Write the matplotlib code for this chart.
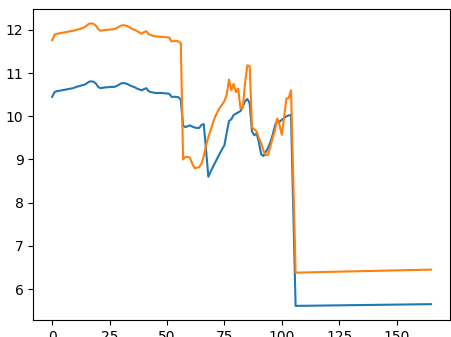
import matplotlib
matplotlib.use("Agg")
import matplotlib.pyplot as plt

x = list(range(0, 107)) + [165]

blue = [10.45, 10.56, 10.58, 10.59, 10.60, 10.61, 10.62, 10.63, 10.64, 10.65,
        10.67, 10.69, 10.70, 10.72, 10.73, 10.76, 10.80, 10.81, 10.80, 10.76,
        10.68, 10.65, 10.66, 10.67, 10.67, 10.68, 10.68, 10.68, 10.70, 10.73,
        10.76, 10.77, 10.76, 10.74, 10.71, 10.69, 10.67, 10.64, 10.62, 10.60,
        10.63, 10.65, 10.58, 10.56, 10.55, 10.54, 10.54, 10.54, 10.54, 10.53,
        10.53, 10.52, 10.45, 10.45, 10.45, 10.44, 10.38, 9.78, 9.75, 9.77,
        9.79, 9.76, 9.74, 9.73, 9.73, 9.80, 9.82, 9.22, 8.60, 8.72,
        8.83, 8.93, 9.04, 9.14, 9.24, 9.33, 9.62, 9.89, 9.93, 10.03,
        10.06, 10.09, 10.12, 10.22, 10.35, 10.40, 10.30, 9.65, 9.56, 9.60,
        9.40, 9.12, 9.08, 9.17, 9.27, 9.40, 9.57, 9.78, 9.91, 9.87,
        9.92, 9.96, 10.00, 10.02, 10.03, 7.80, 5.61, 5.65]

orange = [11.76, 11.89, 11.91, 11.92, 11.93, 11.94, 11.95, 11.96, 11.97, 11.98,
          11.99, 12.01, 12.02, 12.04, 12.06, 12.10, 12.14, 12.15, 12.14, 12.10,
          12.02, 11.98, 11.99, 12.00, 12.00, 12.01, 12.01, 12.02, 12.04, 12.07,
          12.10, 12.11, 12.10, 12.08, 12.05, 12.02, 12.00, 11.97, 11.94, 11.91,
          11.95, 11.97, 11.90, 11.88, 11.86, 11.85, 11.85, 11.84, 11.84, 11.83,
          11.83, 11.82, 11.73, 11.74, 11.75, 11.73, 11.70, 9.00, 9.06, 9.06,
          9.04, 8.90, 8.80, 8.81, 8.82, 8.90, 9.08, 9.33, 9.52, 9.68,
          9.85, 9.99, 10.10, 10.20, 10.27, 10.35, 10.50, 10.85, 10.60, 10.75,
          10.56, 10.64, 10.18, 10.20, 10.78, 11.18, 11.16, 9.75, 9.70, 9.65,
          9.50, 9.38, 9.20, 9.10, 9.11, 9.30, 9.50, 9.67, 9.95, 9.80,
          9.57, 9.98, 10.41, 10.42, 10.60, 8.50, 6.38, 6.45]

fig = plt.figure(figsize=(4.51, 3.37), dpi=100)
ax = fig.add_axes([0.0738, 0.0504, 0.9240, 0.9220])
ax.plot(x, blue, color="C0")
ax.plot(x, orange, color="C1")
fig.savefig("out.png", dpi=100)
